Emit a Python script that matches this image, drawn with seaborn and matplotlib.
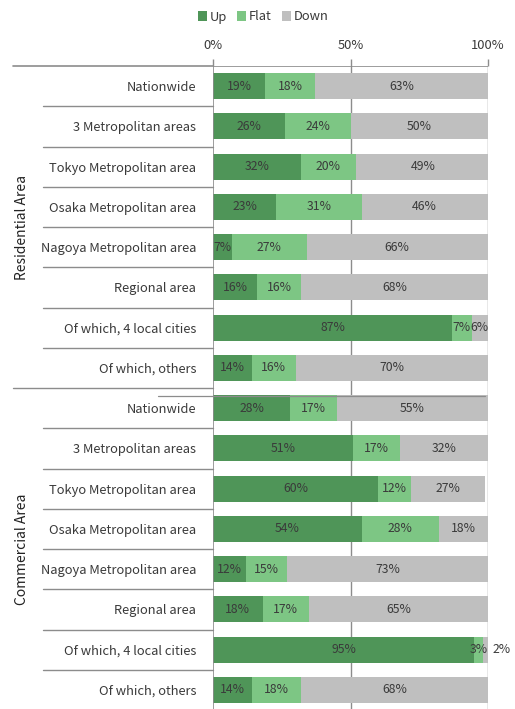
import matplotlib
matplotlib.use("Agg")
import matplotlib.pyplot as plt
from matplotlib.patches import Patch
import seaborn as sns
import pandas as pd
import numpy as np

sns.set_theme(style="white")
plt.rcParams["font.family"] = ["Noto Sans CJK JP", "DejaVu Sans"]

# Row labels (same list for both land-use groups)
areas = ["Nationwide", "3 Metropolitan areas", "Tokyo Metropolitan area",
         "Osaka Metropolitan area", "Nagoya Metropolitan area", "Regional area",
         "Of which, 4 local cities", "Of which, others"]
groups = ["Residential Area", "Commercial Area"]

# Share of land-price points (%)
res_up   = [19, 26, 32, 23, 7, 16, 87, 14]
res_flat = [18, 24, 20, 31, 27, 16, 7, 16]
res_down = [63, 50, 49, 46, 66, 68, 6, 70]
com_up   = [28, 51, 60, 54, 12, 18, 95, 14]
com_flat = [17, 17, 12, 28, 15, 17, 3, 18]
com_down = [55, 32, 27, 18, 73, 65, 2, 68]

series = ["Up", "Flat", "Down"]
colors = {"Up": "#4f9558", "Flat": "#7dc684", "Down": "#bfbfbf"}
text_color = "#3a3a3a"

up = res_up + com_up
flat = res_flat + com_flat
down = res_down + com_down
n = len(up)
df = pd.DataFrame({
    "row": [f"r{i:02d}" for i in range(n)],
    "Up": up, "Flat": flat, "Down": down,
})
df["c_up"] = df["Up"]
df["c_flat"] = df["Up"] + df["Flat"]
df["c_down"] = df["Up"] + df["Flat"] + df["Down"]

fig = plt.figure(figsize=(5.15, 7.09), dpi=100)
ax_top = 1 - 66 / 709
ax_h = 16 * 40.25 / 709
ax = fig.add_axes([213 / 515, ax_top - ax_h, 275 / 515, ax_h])

order = list(df["row"])
# Stack by overdrawing cumulative totals, widest first
for col, name in [("c_down", "Down"), ("c_flat", "Flat"), ("c_up", "Up")]:
    sns.barplot(data=df, x=col, y="row", order=order, orient="h",
                color=colors[name], width=0.65, saturation=1, ax=ax,
                zorder=3, edgecolor="none")

ax.set_xlim(0, 100)
ax.set_ylim(n - 0.5, -0.5)
ax.set_xlabel("")
ax.set_ylabel("")

# Gridlines at 50% and 100%, axis at 0%
for xv in (50, 100):
    ax.axvline(xv, color="#8c8c8c", lw=1.0, zorder=1)
ax.axvline(0, color="#8c8c8c", lw=1.2, zorder=4)
for s in ax.spines.values():
    s.set_visible(False)
ax.axhline(-0.5, color="#8c8c8c", lw=1.2, zorder=4)

# Top percent axis
ax.xaxis.tick_top()
ax.set_xticks([0, 50, 100])
ax.set_xticklabels(["0%", "50%", "100%"], fontsize=9.3, color=text_color)
ax.tick_params(axis="x", length=5, width=1, color="#8c8c8c", pad=5)

# Row labels
ax.set_yticks(range(n))
ax.set_yticklabels(areas + areas, fontsize=9.3, color=text_color)
ax.tick_params(axis="y", length=0, pad=12)

# Segment value labels
fs = 8.8
for i in range(n):
    u, f, d = df.loc[i, "Up"], df.loc[i, "Flat"], df.loc[i, "Down"]
    ax.text(u / 2, i, f"{u}%", ha="center", va="center", fontsize=fs,
            color=text_color, zorder=5)
    ax.text(u + f / 2, i, f"{f}%", ha="center", va="center", fontsize=fs,
            color=text_color, zorder=5)
    if d <= 2:
        ax.text(101.5, i, f"{d}%", ha="left", va="center", fontsize=fs,
                color=text_color, zorder=5, clip_on=False)
    else:
        ax.text(u + f + d / 2, i, f"{d}%", ha="center", va="center",
                fontsize=fs, color=text_color, zorder=5)

# Separator lines in the label column
x_in = (43 - 213) / 275 * 100
x_out = (13 - 213) / 275 * 100
for b in np.arange(0.5, n - 0.5, 1.0):
    start = x_out if b == 7.5 else x_in
    ax.plot([start, 0], [b, b], color="#8c8c8c", lw=1.0, clip_on=False, zorder=4)
ax.plot([x_out, 0], [-0.5, -0.5], color="#8c8c8c", lw=1.2, clip_on=False, zorder=4)
ax.plot([x_out, 0], [n - 0.5, n - 0.5], color="#8c8c8c", lw=1.2, clip_on=False, zorder=4)
ax.plot([(158 - 213) / 275 * 100, 99], [7.7, 7.7], color="#8c8c8c", lw=0.9,
        clip_on=False, zorder=4)

# Group labels
for g, name in enumerate(groups):
    yc = g * 8 + 3.5
    ax.text((22 - 213) / 275 * 100, yc, name, rotation=90, ha="center",
            va="center", fontsize=10, color="#222222", clip_on=False)

# Legend
handles = [Patch(facecolor=colors[s], edgecolor="none", label=s) for s in series]
fig.legend(handles=handles, loc="center", bbox_to_anchor=(263 / 515, 1 - 17 / 709),
           ncol=3, frameon=False, fontsize=9.3, handlelength=0.7, handleheight=0.7,
           handletextpad=0.2, columnspacing=0.8, labelcolor=text_color)

fig.savefig("out.png", dpi=100)
